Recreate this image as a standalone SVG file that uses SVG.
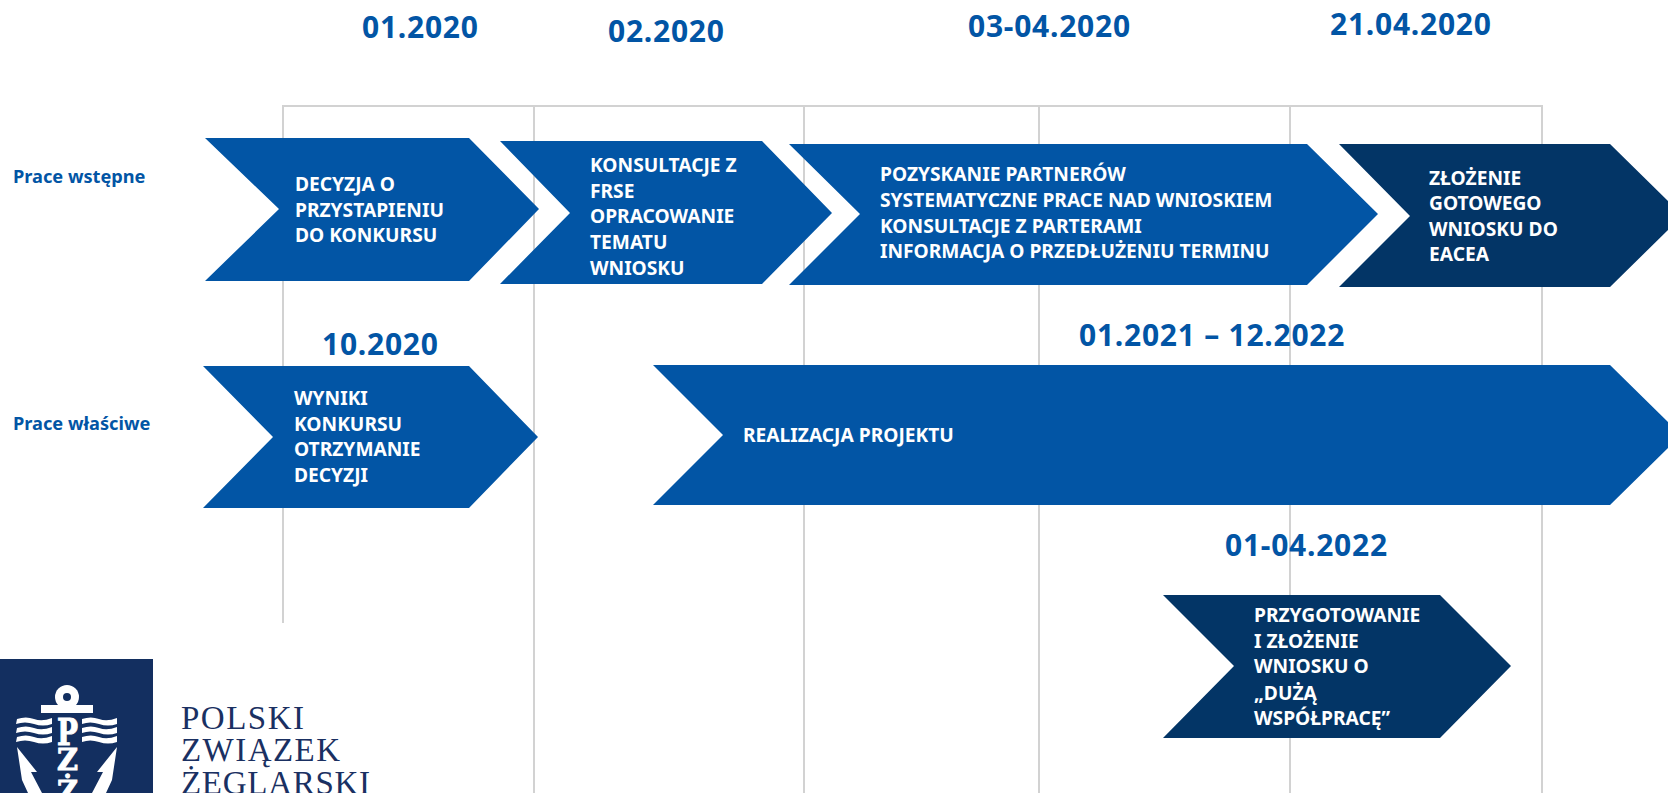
<svg xmlns="http://www.w3.org/2000/svg" width="1668" height="793" viewBox="0 0 1668 793">
<style>
.grid{stroke:#d2d2d2;stroke-width:2;fill:none}
.blue{fill:#0255a5}
.dark{fill:#033566}
.t{font-family:"Noto Sans","Liberation Sans",sans-serif;font-weight:700;font-size:19.2px;fill:#fff}
.d{font-family:"Noto Sans","Liberation Sans",sans-serif;font-weight:700;font-size:30px;letter-spacing:.75px;fill:#0255a5}
.s{font-family:"Noto Sans","Liberation Sans",sans-serif;font-weight:700;font-size:18.2px;fill:#0255a5}
.l{font-family:"Liberation Serif",serif;font-size:33px;fill:#1a3062}
.m{font-family:"DejaVu Serif",serif;font-weight:700;fill:#fff;stroke:#fff;stroke-width:1}
</style>
<rect width="1668" height="793" fill="#fff"/>
<g id="connectors">
<path class="grid" d="M283 623V106H1542V793M534 106V793M804 106V793M1039 106V793M1290 106V793"/>
</g>
<g id="dates">
<text class="d" x="362" y="38">01.2020</text>
<text class="d" x="608" y="42">02.2020</text>
<text class="d" x="968" y="37">03-04.2020</text>
<text class="d" x="1330" y="35">21.04.2020</text>
<text class="d" x="322" y="355">10.2020</text>
<text class="d" x="1079" y="346">01.2021 – 12.2022</text>
<text class="d" x="1225" y="556">01-04.2022</text>
</g>
<g id="row-labels">
<text class="s" x="13" y="183">Prace wstępne</text>
<text class="s" x="13" y="430">Prace właściwe</text>
</g>
<g id="n1"><polygon class="blue" points="205,138 469,138 539,209 469,281 205,281 279,209"/>
<text class="t"><tspan x="295" y="191">DECYZJA O</tspan><tspan x="295" y="217">PRZYSTAPIENIU</tspan><tspan x="295" y="242">DO KONKURSU</tspan></text></g>
<g id="n2"><polygon class="blue" points="500,141 762,141 832,213 762,284 500,284 570,213"/>
<text class="t"><tspan x="590" y="172">KONSULTACJE Z</tspan><tspan x="590" y="198">FRSE</tspan><tspan x="590" y="223">OPRACOWANIE</tspan><tspan x="590" y="249">TEMATU</tspan><tspan x="590" y="275">WNIOSKU</tspan></text></g>
<g id="n3"><polygon class="blue" points="789,144 1307,144 1378,214 1307,285 789,285 860,214"/>
<text class="t"><tspan x="880" y="181">POZYSKANIE PARTNERÓW</tspan><tspan x="880" y="207">SYSTEMATYCZNE PRACE NAD WNIOSKIEM</tspan><tspan x="880" y="233">KONSULTACJE Z PARTERAMI</tspan><tspan x="880" y="258">INFORMACJA O PRZEDŁUŻENIU TERMINU</tspan></text></g>
<g id="n4"><polygon class="dark" points="1339,144 1610,144 1668,201 1668,230 1610,287 1339,287 1410,216"/>
<text class="t"><tspan x="1429" y="185">ZŁOŻENIE</tspan><tspan x="1429" y="210">GOTOWEGO</tspan><tspan x="1429" y="236">WNIOSKU DO</tspan><tspan x="1429" y="261">EACEA</tspan></text></g>
<g id="n5"><polygon class="blue" points="203,366 469,366 538,437 469,508 203,508 273,437"/>
<text class="t"><tspan x="294" y="405">WYNIKI</tspan><tspan x="294" y="431">KONKURSU</tspan><tspan x="294" y="456">OTRZYMANIE</tspan><tspan x="294" y="482">DECYZJI</tspan></text></g>
<g id="n6"><polygon class="blue" points="653,365 1610,365 1668,422 1668,448 1610,505 653,505 723,435"/>
<text class="t" x="743" y="442">REALIZACJA PROJEKTU</text></g>
<g id="n7"><polygon class="dark" points="1163,595 1440,595 1511,666 1440,738 1163,738 1234,666"/>
<text class="t"><tspan x="1254" y="622">PRZYGOTOWANIE</tspan><tspan x="1254" y="648">I ZŁOŻENIE</tspan><tspan x="1254" y="673">WNIOSKU O</tspan><tspan x="1254" y="700">„DUŻĄ</tspan><tspan x="1254" y="725">WSPÓŁPRACĘ”</tspan></text></g>
<g id="logo">
<rect x="0" y="659" width="153" height="134" fill="#132f60"/>
<g fill="#fff">
<circle cx="67" cy="697" r="12"/><circle cx="67" cy="697" r="4" fill="#132f60"/>
<rect x="41" y="705" width="52" height="8"/>
<path d="M17 719q9-3 17 0t18-1v6q-9 3-18 0t-18 0zM17 728q9-3 17 0t18-1v6q-9 3-18 0t-18 0zM17 737q9-3 17 0t18-1v6q-9 3-18 0t-18 0zM82 719q9-3 17 0t18-1v6q-9 3-18 0t-17 0zM82 728q9-3 17 0t18-1v6q-9 3-18 0t-17 0zM82 737q9-3 17 0t18-1v6q-9 3-18 0t-17 0z"/>
<path d="M17 747L37 772 31 772 42 793H28L22 780ZM117 747L97 772 103 772 92 793H106L112 780Z"/>
</g>
<text class="m" x="57" y="745" font-size="37" textLength="21" lengthAdjust="spacingAndGlyphs">P</text>
<text class="m" x="57" y="770" font-size="30" textLength="21" lengthAdjust="spacingAndGlyphs">Z</text>
<text class="m" x="57" y="802" font-size="30" textLength="21" lengthAdjust="spacingAndGlyphs">Ż</text>
<text class="l" x="181" y="729" textLength="123">POLSKI</text>
<text class="l" x="181" y="761" textLength="159">ZWIĄZEK</text>
<text class="l" x="181" y="794" textLength="189">ŻEGLARSKI</text>
</g>
</svg>
